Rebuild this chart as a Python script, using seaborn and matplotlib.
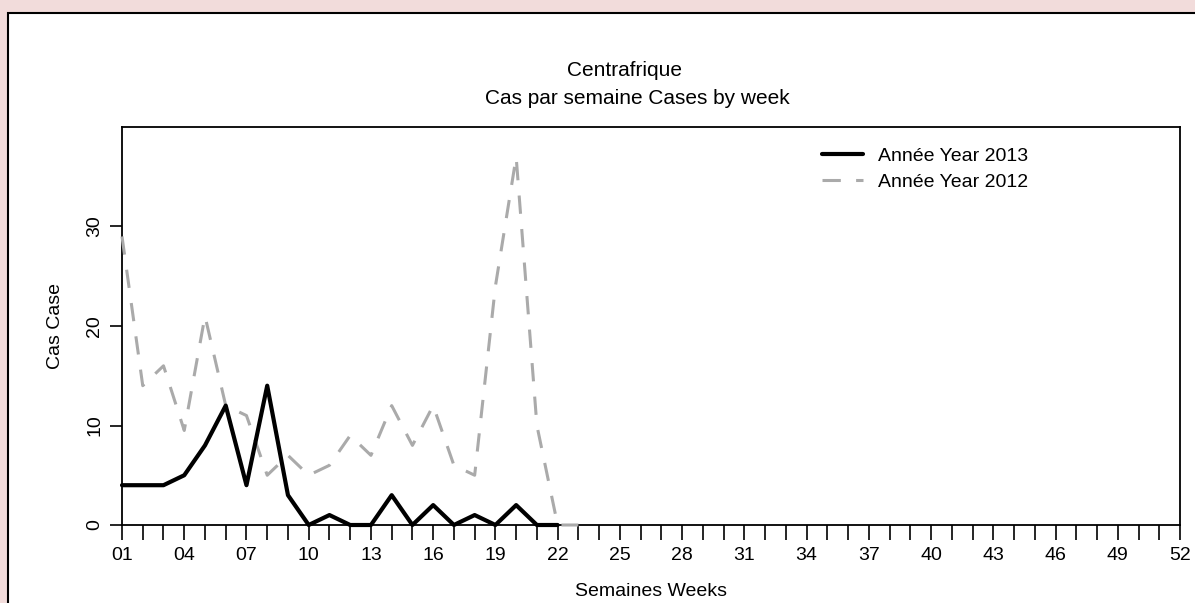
import matplotlib
matplotlib.use("Agg")
import matplotlib.pyplot as plt
from matplotlib.patches import Rectangle
import seaborn as sns
import pandas as pd
import numpy as np

# ---- data ----
weeks_2013 = list(range(1, 23))
cases_2013 = [4, 4, 4, 5, 8, 12, 4, 14, 3, 0, 1, 0, 0, 3, 0, 2, 0, 1, 0, 2, 0, 0]
weeks_2012 = list(range(1, 24))
cases_2012 = [29, 14, 16, 9.5, 21, 12, 11, 5, 7, 5, 6, 9, 7, 12, 8, 12, 6, 5, 24, 37, 10, 0, 0]
label_2013 = "Année Year 2013"
label_2012 = "Année Year 2012"
title_1 = "Centrafrique"
title_2 = "Cas par semaine Cases by week"
xlabel = "Semaines Weeks"
ylabel = "Cas Case"
all_weeks = list(range(1, 53))
labelled_weeks = list(range(1, 53, 3))
y_ticks = [0, 10, 20, 30]

sns.set_style("ticks")
plt.rcParams['font.family'] = ['Liberation Sans', 'DejaVu Sans']
plt.rcParams['text.color'] = 'black'
plt.rcParams['axes.labelcolor'] = 'black'
FS = 14

W, H = 1195, 603
fig = plt.figure(figsize=(W / 100, H / 100), dpi=100, facecolor='#f2dcdb')
panel = Rectangle((8 / W, -0.1), 1.2, (H - 13) / H + 0.1, transform=fig.transFigure,
                  facecolor='white', edgecolor='black', linewidth=1.5, zorder=-10)
fig.patches.append(panel)

ax = fig.add_axes([122 / W, (H - 525) / H, (1180 - 122) / W, (525 - 127) / H])
ax.set_zorder(1)
ax.set_facecolor('white')

df13 = pd.DataFrame({"week": weeks_2013, "cases": cases_2013})
df12 = pd.DataFrame({"week": weeks_2012, "cases": cases_2012})

sns.lineplot(data=df13, x="week", y="cases", ax=ax, color='black', linewidth=3.0,
             label=label_2013, clip_on=False, zorder=4)
sns.lineplot(data=df12, x="week", y="cases", ax=ax, color='#aaaaaa', linewidth=2.2,
             linestyle=(0, (6, 5)), label=label_2012, clip_on=False, zorder=3)

ax.set_xlim(1, 52)
ax.set_ylim(0, 40)
ax.set_xticks(all_weeks)
ax.set_xticklabels([f"{w:02d}" if w in labelled_weeks else "" for w in all_weeks], fontsize=FS)
ax.set_yticks(y_ticks)
ax.set_yticklabels([str(v) for v in y_ticks], fontsize=FS, rotation=90, va='center')
ax.tick_params(axis='x', length=11, width=1.2, pad=5, colors='black')
ax.tick_params(axis='y', length=8.5, width=1.2, pad=5, colors='black')

for s in ax.spines.values():
    s.set_visible(True)
    s.set_linewidth(1.3)
    s.set_color('black')

ax.set_xlabel(xlabel, fontsize=FS)
ax.set_ylabel(ylabel, fontsize=FS)
ax.xaxis.label.set_verticalalignment('center')
ax.xaxis.set_label_coords(0.5, (525 - 592) / 398)
ax.yaxis.label.set_verticalalignment('center')
ax.yaxis.set_label_coords((56 - 122) / 1058, 0.5)

fig.text(625 / W, 1 - 71 / H, title_1, ha='center', va='center', fontsize=FS + 1)
fig.text(637 / W, 1 - 98 / H, title_2, ha='center', va='center', fontsize=FS + 1)

leg = ax.legend(loc='upper left', bbox_to_anchor=((822 - 122) / 1058, (525 - 147) / 398),
                frameon=False, fontsize=FS, handlelength=2.1, handletextpad=0.8,
                borderpad=0, borderaxespad=0, labelspacing=0.45)

fig.savefig("out.png", dpi=100, facecolor=fig.get_facecolor())
